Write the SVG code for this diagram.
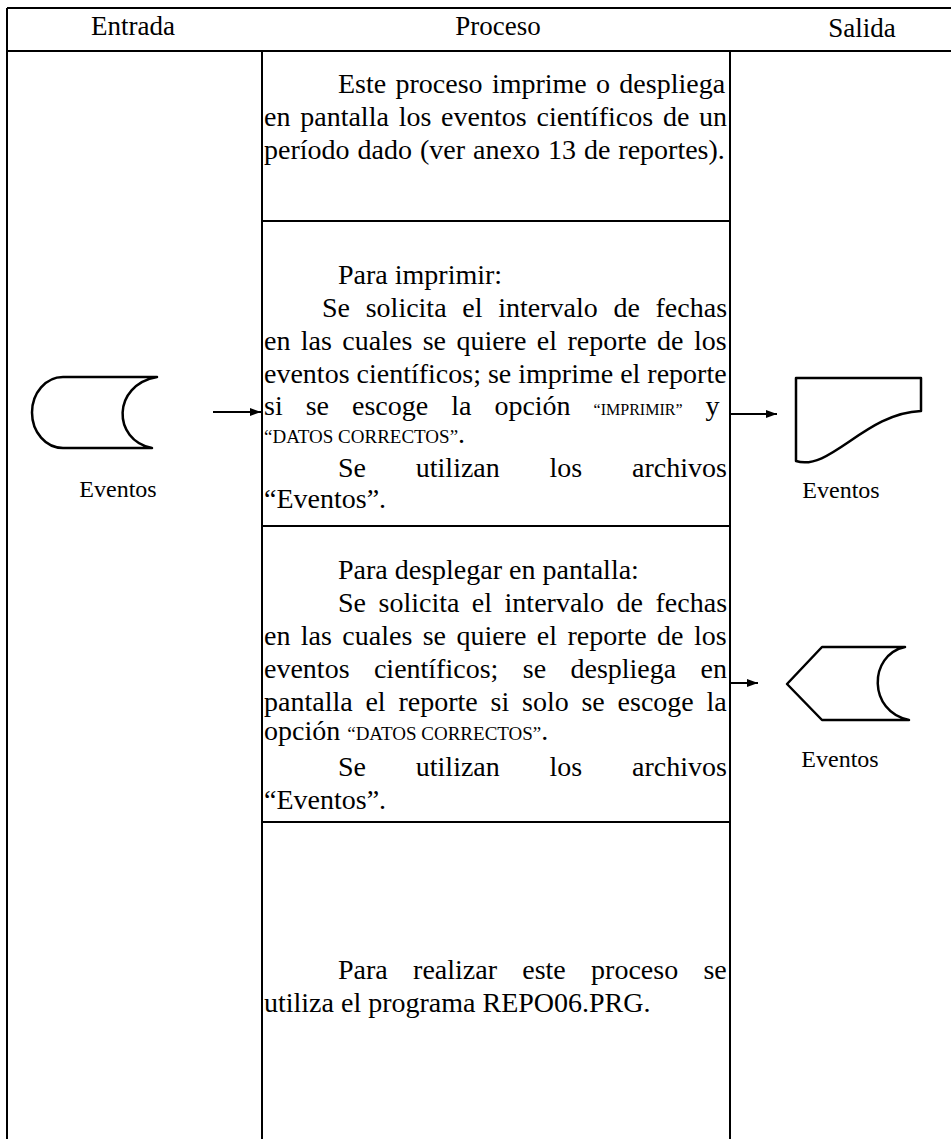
<svg xmlns="http://www.w3.org/2000/svg" width="951" height="1139" viewBox="0 0 951 1139">
<style>
.ln{stroke:#000;stroke-width:2;fill:none}
.sh{stroke:#000;stroke-width:2.5;fill:none;stroke-linejoin:round;stroke-linecap:round}
.t{font-family:"Liberation Serif","Times New Roman",serif;font-size:28px;fill:#000}
.h{font-family:"Liberation Serif","Times New Roman",serif;font-size:27px;fill:#000}
.lb{font-family:"Liberation Serif","Times New Roman",serif;font-size:24px;fill:#000}
.sm{font-size:19px}
.xs{font-size:16px}
</style>
<defs>
<marker id="ah" markerUnits="userSpaceOnUse" markerWidth="12" markerHeight="10" refX="11" refY="4" orient="auto"><path d="M0,0 L11,4 L0,8 z" fill="#000"/></marker>
</defs>
<rect width="951" height="1139" fill="#fff"/>
<g id="table">
<line class="ln" x1="7" y1="8" x2="951" y2="8"/>
<line class="ln" x1="7" y1="8" x2="7" y2="1139"/>
<line class="ln" x1="7" y1="51" x2="951" y2="51"/>
<line class="ln" x1="262" y1="51" x2="262" y2="1139"/>
<line class="ln" x1="730" y1="51" x2="730" y2="1139"/>
<line class="ln" x1="262" y1="221" x2="730" y2="221"/>
<line class="ln" x1="262" y1="526" x2="730" y2="526"/>
<line class="ln" x1="262" y1="822" x2="730" y2="822"/>
<text class="h" x="133" y="35" text-anchor="middle">Entrada</text>
<text class="h" x="498" y="35" text-anchor="middle">Proceso</text>
<text class="h" x="862" y="37" text-anchor="middle">Salida</text>
</g>
<g id="proc1">
<text class="t" x="338" y="93" word-spacing="2.3">Este proceso imprime o despliega</text>
<text class="t" x="264" y="126" word-spacing="2.8">en pantalla los eventos científicos de un</text>
<text class="t" x="264" y="159" word-spacing="1">período dado (ver anexo 13 de reportes).</text>
</g>
<g id="proc2">
<text class="t" x="338" y="284">Para imprimir:</text>
<text class="t" x="322" y="317" word-spacing="8.7">Se solicita el intervalo de fechas</text>
<text class="t" x="264" y="350" word-spacing="3.4">en las cuales se quiere el reporte de los</text>
<text class="t" x="264" y="383">eventos científicos; se imprime el reporte</text>
<text class="t" x="264" y="415" word-spacing="16">si se escoge la opción <tspan class="xs">“IMPRIMIR”</tspan> y</text>
<text class="t" x="264" y="443"><tspan class="sm">“DATOS CORRECTOS”</tspan>.</text>
<text class="t" x="338" y="477" word-spacing="42.8">Se utilizan los archivos</text>
<text class="t" x="264" y="508">“Eventos”.</text>
</g>
<g id="proc3">
<text class="t" x="338" y="579">Para desplegar en pantalla:</text>
<text class="t" x="338" y="612" word-spacing="5.5">Se solicita el intervalo de fechas</text>
<text class="t" x="264" y="645" word-spacing="3.4">en las cuales se quiere el reporte de los</text>
<text class="t" x="264" y="678" word-spacing="17.4">eventos científicos; se despliega en</text>
<text class="t" x="264" y="711" word-spacing="5.8">pantalla el reporte si solo se escoge la</text>
<text class="t" x="264" y="740">opción <tspan class="sm">“DATOS CORRECTOS”</tspan>.</text>
<text class="t" x="338" y="776" word-spacing="42.8">Se utilizan los archivos</text>
<text class="t" x="264" y="809">“Eventos”.</text>
</g>
<g id="proc4">
<text class="t" x="338" y="979" word-spacing="18.3">Para realizar este proceso se</text>
<text class="t" x="264" y="1012">utiliza el programa REPO06.PRG.</text>
</g>
<g id="in-eventos">
<path class="sh" d="M157,377 L63,377 A31,35.5 0 0 0 63,448 L152,448 C112,440 112,385 157,377"/>
<text class="lb" x="118" y="497" text-anchor="middle">Eventos</text>
</g>
<g id="out-print">
<path class="sh" d="M796,378 L921,378 L921,411 C865,413 830,472 796,461 Z"/>
<text class="lb" x="841" y="498" text-anchor="middle">Eventos</text>
</g>
<g id="out-display">
<path class="sh" d="M905,647 L822,647 L787,684 L822,720 L909,720 C868,712 868,655 905,647"/>
<text class="lb" x="840" y="767" text-anchor="middle">Eventos</text>
</g>
<g id="connectors">
<line class="ln" x1="213" y1="412" x2="261" y2="412" marker-end="url(#ah)"/>
<line class="ln" x1="731" y1="414" x2="777" y2="414" marker-end="url(#ah)"/>
<line class="ln" x1="731" y1="683" x2="758" y2="683" marker-end="url(#ah)"/>
</g>
</svg>
